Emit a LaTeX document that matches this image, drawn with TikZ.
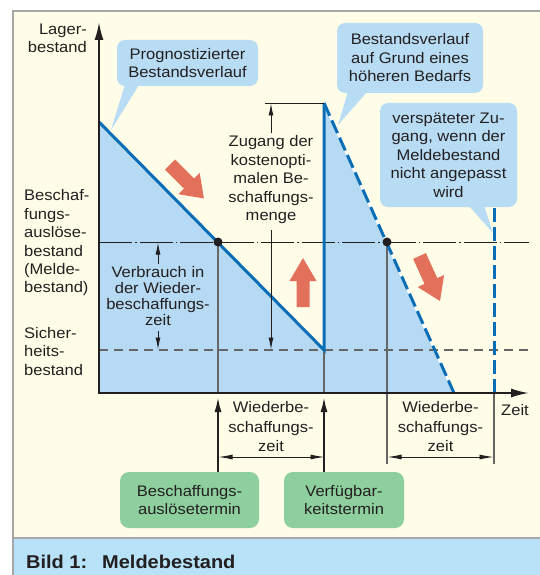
\documentclass[tikz,border=0pt]{standalone}
\usepackage{fontspec}
\setmainfont{Liberation Sans}[FakeStretch=1.08]
\usetikzlibrary{arrows.meta}

\definecolor{paper}{HTML}{FFFCE8}
\definecolor{framegray}{HTML}{A6A6A6}
\definecolor{capband}{HTML}{B8E2F8}
\definecolor{stockfill}{HTML}{B6DAF3}
\definecolor{calloutblue}{HTML}{B8DCF4}
\definecolor{stockline}{HTML}{0A6EB6}
\definecolor{termgreen}{HTML}{8ECF9E}
\definecolor{hintred}{HTML}{E3705B}
\definecolor{ink}{HTML}{231F20}
\definecolor{guide}{HTML}{666666}

\tikzset{
  txt/.style={text=ink, inner sep=0pt, align=center, font=\fontsize{15.3}{18.5}\selectfont},
  callout/.style={fill=calloutblue, rounded corners=8pt, txt},
  termbox/.style={fill=termgreen, rounded corners=9pt, txt},
  guideline/.style={guide, line width=1.1pt},
  dimline/.style={ink, line width=0.9pt},
  dimtip/.style={-{Latex[length=12pt,width=5pt]}},
  axis/.style={ink, line width=2pt, -{Latex[length=18pt,width=9pt]}},
  pointerarrow/.style={ink, line width=2pt, -{Latex[length=15pt,width=7pt]}},
  stock/.style={stockline, line width=3pt},
  stockdash/.style={stockline, line width=3pt, dash pattern=on 14pt off 5pt},
  redblock/.style={fill=hintred},
}

% block arrow along local +x: length, shaft half-width, head half-width, head length
\newcommand\blockarrowshape[4]{%
  (0,-#2) -- ({#1-#4},-#2) -- ({#1-#4},-#3) -- (#1,0) -- ({#1-#4},#3) -- ({#1-#4},#2) -- (0,#2) -- cycle}

\begin{document}
\begin{tikzpicture}[x=1pt,y=-1pt]
\useasboundingbox (0,0) rectangle (540,575);
\fill[white] (0,0) rectangle (540,575);

% panel and caption band
\fill[paper] (13,11) rectangle (540,538);
\fill[capband] (13,538) rectangle (540,575);
\draw[framegray, line width=1.6pt] (13,575) -- (13,11) -- (540,11);
\draw[framegray, line width=1.6pt] (13,538) -- (540,538);
\node[anchor=base west, inner sep=0pt, text=ink, font=\fontsize{18.5}{20}\selectfont\bfseries] (cap1) at (26,568) {Bild 1:};
\node[anchor=base west, inner sep=0pt, text=ink, font=\fontsize{18.5}{20}\selectfont\bfseries] (cap2) at (102,568) {Meldebestand};

% key points of the stock curve
\coordinate (O) at (99,393);
\coordinate (ytip) at (99,22);
\coordinate (xtip) at (529,393);
\coordinate (start) at (99,122);
\coordinate (low) at (324,350);
\coordinate (high) at (324,103);
\coordinate (end) at (454,393);
\coordinate (lateTop) at (494,208);
\coordinate (late) at (494,393);
\coordinate (m1) at (218,242);
\coordinate (m2) at (387,242);

% stock area
\fill[stockfill] (start) -- (low) -- (high) -- (end) -- (O) -- cycle;

% reorder level and safety stock
\draw[ink, line width=0.9pt, dash pattern=on 33pt off 3pt on 1.5pt off 3pt] (99,242) -- (529,242);
\draw[guide, line width=1.2pt, dash pattern=on 9pt off 6pt] (99,350) -- (529,350);

% guide verticals
\draw[guideline] (m1) -- (m1 |- O);
\draw[guideline] (low) -- (low |- O);
\draw[guideline] (m2) -- (387,464);
\draw[guideline] (late) -- (494,464);

% callouts
\node[callout, minimum width=141pt, minimum height=46pt] (c1) at (187.5,63) {Prognostizierter\\Bestandsverlauf};
\coordinate (p1) at (111,130);
\fill[calloutblue] ([xshift=8pt,yshift=1pt]c1.south west) -- ([xshift=22pt,yshift=1pt]c1.south west) -- (p1) -- cycle;

\node[callout, minimum width=146pt, minimum height=70pt] (c2) at (410,58) {Bestandsverlauf\\auf Grund eines\\höheren Bedarfs};
\coordinate (p2) at (338,125);
\fill[calloutblue] ([xshift=11pt,yshift=1pt]c2.south west) -- ([xshift=30pt,yshift=1pt]c2.south west) -- (p2) -- cycle;

\node[callout, minimum width=137pt, minimum height=104pt] (c3) at (448.5,155) {verspäteter Zu-\\gang, wenn der\\Meldebestand\\nicht angepasst\\wird};
\coordinate (p3) at (493,233);
\fill[calloutblue] ([xshift=-48pt,yshift=1pt]c3.south east) -- ([xshift=-33pt,yshift=1pt]c3.south east) -- (p3) -- cycle;

% stock curve
\draw[stock] (start) -- (low) -- (high);
\draw[white, line width=2.4pt] (high) -- (end);
\draw[stockdash] (high) -- (end);
\draw[stockdash] (lateTop) -- (late);

% axes
\draw[axis] (O) -- (ytip);
\draw[axis] ([xshift=-1pt]O) -- (xtip);

% reorder points
\fill[ink] (m1) circle (4.5pt);
\fill[ink] (m2) circle (4.5pt);

% order quantity dimension
\draw[dimline] (265,103) -- (high);
\node[txt] (zug) at (271,180) {Zugang der\\kostenopti-\\malen Be-\\schaffungs-\\menge};
\draw[dimline, dimtip] (271,133) -- (271,103.5);
\draw[dimline, dimtip] (271,230) -- (271,349.5);

% consumption during lead time
\node[txt, font=\fontsize{15.3}{16}\selectfont] (verb) at (158,296) {Verbrauch in\\der Wieder-\\beschaffungs-\\zeit};
\draw[dimline, dimtip] (158,264) -- (158,242.5);
\draw[dimline, dimtip] (158,331) -- (158,349.5);

% axis labels
\node[txt, anchor=east, align=right, font=\fontsize{15.3}{18}\selectfont] (ylab) at (87,38) {Lager-\\bestand};
\node[txt] (xlab) at (515,410) {Zeit};
\node[txt, anchor=west, align=left, font=\fontsize{15.3}{18.4}\selectfont] (melde) at (24,243) {Beschaf-\\fungs-\\auslöse-\\bestand\\(Melde-\\bestand)};
\node[txt, anchor=west, align=left] (sicher) at (24,351.5) {Sicher-\\heits-\\bestand};

% lead time dimensions
\node[txt, font=\fontsize{15.3}{19.5}\selectfont] (wbz1) at (271,427) {Wiederbe-\\schaffungs-\\zeit};
\draw[dimline, {Latex[length=14pt,width=5pt]}-{Latex[length=14pt,width=5pt]}] (218.5,457) -- (324.5,457);
\node[txt, font=\fontsize{15.3}{19.5}\selectfont] (wbz2) at (440.5,427) {Wiederbe-\\schaffungs-\\zeit};
\draw[dimline, {Latex[length=14pt,width=5pt]}-{Latex[length=14pt,width=5pt]}] (387.5,457) -- (493.5,457);

% date boxes with pointers to the time axis
\node[termbox, minimum width=139pt, minimum height=56pt] (g1) at (189.5,500) {Beschaffungs-\\auslösetermin};
\node[termbox, minimum width=120pt, minimum height=56pt] (g2) at (344,500) {Verfügbar-\\keitstermin};
\draw[pointerarrow] (g1.north -| m1) -- (218,397);
\draw[pointerarrow] (g2.north -| low) -- (324,397);

% trend arrows
\begin{scope}[shift={(170,164.5)}, rotate=-45]
  \fill[redblock] \blockarrowshape{48}{7.2}{15}{21};
\end{scope}
\begin{scope}[shift={(303,307)}, rotate=90]
  \fill[redblock] \blockarrowshape{49}{6.5}{13.5}{23};
\end{scope}
\begin{scope}[shift={(419.5,256)}, rotate=-65.5]
  \fill[redblock] \blockarrowshape{49.5}{7}{14.5}{22};
\end{scope}
\end{tikzpicture}
\end{document}
